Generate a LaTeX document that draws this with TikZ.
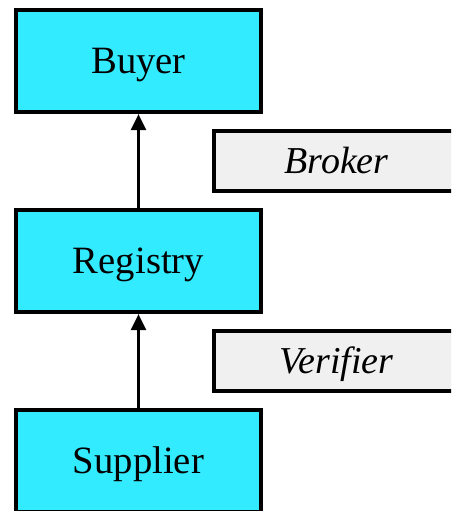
\documentclass[tikz,border=0pt]{standalone}
\usepackage{fontspec}
\setmainfont{Liberation Serif}
\usetikzlibrary{arrows.meta}

\definecolor{rolecyan}{RGB}{51,235,255}
\definecolor{agentgray}{RGB}{240,240,240}

\tikzset{
    role/.style={draw=black, line width=3pt, fill=rolecyan, rectangle,
        minimum width=183.75pt, minimum height=76.5pt, inner sep=0pt,
        text height=22pt, text depth=4pt,
        font=\fontsize{29}{34}\selectfont},
    agent/.style={draw=black, line width=2.6pt, fill=agentgray, rectangle,
        minimum width=183.75pt, minimum height=45pt, inner sep=0pt,
        text height=22pt, text depth=4pt,
        font=\fontsize{28.5}{33}\selectfont\itshape},
    flow/.style={line width=2.4pt, -{Triangle[width=11pt, length=12pt]}}
}

\begin{document}
\begin{tikzpicture}[x=0.75pt, y=-0.75pt]
    % Definitions
    \def \colx{138.5}
    \def \sidex{336.5}
    % Page area, boxes run over the right and bottom edges
    \clip (0,0) rectangle (451,511);
    %%%
    %%% Roles
    %%%
    \node[role] (buyer)    at (\colx,61)  {Buyer};
    \node[role] (registry) at (\colx,261) {Registry};
    \node[role] (supplier) at (\colx,461) {Supplier};
    %%%
    %%% Agents beside the chain
    %%%
    \node[agent] (broker)   at (\sidex,161) {Broker};
    \node[agent] (verifier) at (\sidex,361) {Verifier};
    % Upward flow
    \draw[flow] (registry.north) -- (buyer.south);
    \draw[flow] (supplier.north) -- (registry.south);
\end{tikzpicture}
\end{document}
